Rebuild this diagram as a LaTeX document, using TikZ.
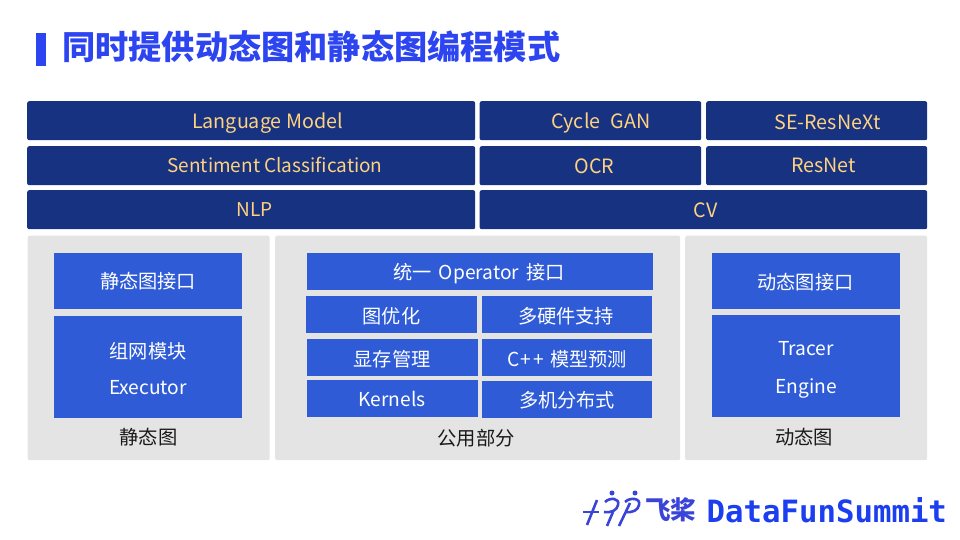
\documentclass[tikz,border=0pt]{standalone}
\usepackage{fontspec}
\usepackage{xcolor}
\setmainfont{Noto Sans CJK SC}
\newfontfamily\logofont{DejaVu Sans Mono}
\definecolor{highlightcolorc}{HTML}{2D45F0}
\definecolor{darkcolorc}{HTML}{163280}
\definecolor{midcolorc}{HTML}{2F5CD6}
\definecolor{panelcolorc}{HTML}{E4E4E4}
\definecolor{goldcolorc}{HTML}{FFD27F}
\definecolor{logocolorc}{HTML}{1B3FF0}
\definecolor{paddlecolorc}{HTML}{3A45D8}
\tikzstyle{topbox} = [
    fill=darkcolorc,
    text=goldcolorc,
    rounded corners=2pt,
    inner sep=0pt,
    font=\fontsize{19}{19}\selectfont
    ]
\tikzstyle{topbig} = [
    topbox,
    fill=none,
    font=\fontsize{19.7}{20}\selectfont
    ]
\tikzstyle{panel} = [
    fill=panelcolorc,
    rounded corners=2pt,
    inner sep=0pt
    ]
\tikzstyle{midbox} = [
    fill=midcolorc,
    text=white,
    inner sep=0pt,
    font=\fontsize{19.2}{19}\selectfont
    ]
\tikzstyle{caption} = [
    text=black!90,
    inner sep=0pt,
    font=\fontsize{19.3}{19}\selectfont
    ]
\tikzstyle{paddleline} = [
    draw=paddlecolorc,
    line width=2.6pt
    ]
\tikzstyle{paddledot} = [
    fill=paddlecolorc,
    circle,
    inner sep=0pt,
    minimum size=5pt
    ]
% draws a box from its corners: name, style, x0, y0, x1, y1
\newcommand{\boxat}[6]{%
    \path let \n1={#5-#3}, \n2={#6-#4} in
        node [#2, minimum width=\n1 pt, minimum height=\n2 pt, anchor=north west] (#1) at (#3,#4) {};
}
\usetikzlibrary{calc}
\begin{document}
\begin{tikzpicture}[x=1pt,y=-1pt]
\useasboundingbox (0,0) rectangle (960,540);

% title
\node [fill=highlightcolorc, minimum width=10pt, minimum height=33pt, inner sep=0pt, anchor=north west] (titlebar) at (36,33) {};
\node [anchor=west, inner sep=0pt, text=highlightcolorc, font=\fontsize{33.2}{33}\selectfont\bfseries] (title) at (62,47) {同时提供动态图和静态图编程模式};

% upper rows
\boxat{lang}{topbox}{27}{101}{475}{140}
\boxat{cycle}{topbox}{479.5}{101}{701}{140}
\boxat{senet}{topbox}{706}{101}{927}{140}
\boxat{senti}{topbox}{27}{146}{475}{185}
\boxat{ocr}{topbox}{479.5}{146}{701}{185}
\boxat{resnet}{topbox}{706}{146}{927}{185}
\boxat{nlp}{topbox}{27}{190}{475}{229}
\boxat{cv}{topbox}{479.5}{190}{927}{229}
\node [topbig] (langtext) at (267.5,123) {Language Model};
\node [topbig] (cycletext) at (601,123) {Cycle\ \ \hspace{1.5pt}GAN};
\node [topbig] (senettext) at (827.5,122) {SE-ResNeXt};
\node [topbox, fill=none] (sentitext) at (275,165) {Sentiment Classification};
\node [topbig] (ocrtext) at (594.5,166.5) {OCR};
\node [topbig] (resnettext) at (823.5,165.5) {ResNet};
\node [topbox, fill=none] (nlptext) at (254.5,210) {NLP};
\node [topbig] (cvtext) at (705.5,210) {CV};

% panels
\boxat{staticpanel}{panel}{27.5}{235.5}{269.5}{460}
\boxat{commonpanel}{panel}{275}{235.5}{680}{460}
\boxat{dynamicpanel}{panel}{685}{235.5}{927}{460}

% static graph
\boxat{staticapi}{midbox}{54}{253}{242}{309}
\boxat{staticnet}{midbox}{54}{316}{242}{418}
\node [midbox, fill=none] (staticapitext) at (148,281) {静态图接口};
\node [midbox, fill=none] (nettext) at (148,351) {组网模块};
\node [midbox, fill=none] (exectext) at (148,388) {Executor};
\node [caption] (staticcap) at (148.5,437) {静态图};

% common part
\boxat{opapi}{midbox}{307}{253}{653}{290}
\boxat{graphopt}{midbox}{306}{296}{477}{333}
\boxat{hardware}{midbox}{482}{296}{652}{333}
\boxat{memory}{midbox}{307}{339}{478}{376}
\boxat{predict}{midbox}{482}{339}{652}{376}
\boxat{kernels}{midbox}{307}{380}{478}{417}
\boxat{multi}{midbox}{482}{381}{652}{418}
\node [midbox, fill=none] (opapitext) at (479,274) {统一\hspace{3pt} Operator\hspace{3pt} 接口};
\node [midbox, fill=none] (graphopttext) at (391.5,316) {图优化};
\node [midbox, fill=none] (hardwaretext) at (566,316) {多硬件支持};
\node [midbox, fill=none] (memorytext) at (392,359) {显存管理};
\node [midbox, fill=none] (predicttext) at (567,359) {C\hspace{1.5pt}+\hspace{1.5pt}+\hspace{2pt} 模型预测};
\node [midbox, fill=none] (kernelstext) at (392,399) {Kernels};
\node [midbox, fill=none] (multitext) at (567,400) {多机分布式};
\node [caption] (commoncap) at (476,438) {公用部分};

% dynamic graph
\boxat{dynamicapi}{midbox}{712}{253}{900}{309}
\boxat{dynamicnet}{midbox}{712}{315}{900}{417}
\node [midbox, fill=none] (dynamicapitext) at (805.5,282) {动态图接口};
\node [midbox, fill=none] (tracertext) at (806,349) {Tracer};
\node [midbox, fill=none] (enginetext) at (806,388) {Engine};
\node [caption] (dynamiccap) at (804,437) {动态图};

% logo
\draw [paddleline] (583,512) -- (599,512);
\draw [paddleline] (597,500) -- (587,525);
\draw [paddleline] (605,502) .. controls (610,497) and (620,498) .. (618,505) .. controls (617,510) and (612,513) .. (604,512);
\draw [paddleline] (613,512) -- (607,526);
\draw [paddleline] (630,503) -- (619,526);
\draw [paddleline] (625,502) .. controls (630,497) and (641,498) .. (639,505) .. controls (638,510) and (633,513) .. (625,512);
\node [paddledot] (dotone) at (612,493) {};
\node [paddledot] (dottwo) at (635,493) {};
\node [anchor=west, inner sep=0pt, text=paddlecolorc, font=\fontsize{25.5}{26}\selectfont\bfseries] (paddle) at (645,510) {飞桨};
\node [anchor=west, inner sep=0pt, text=logocolorc, font=\fontsize{30.7}{31}\logofont\bfseries] (brand) at (706.5,510) {DataFunSummit};
\end{tikzpicture}
\end{document}
